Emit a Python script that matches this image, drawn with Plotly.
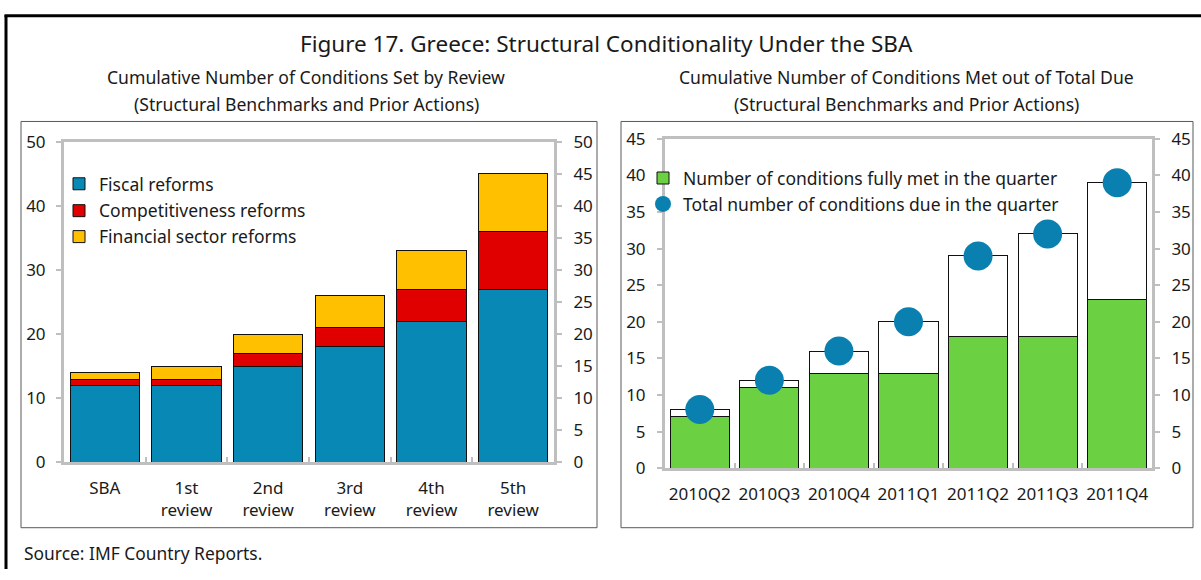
import plotly.graph_objects as go

W, H = 1201, 580

# ---- Data ----
reviews = ["SBA", "1st review", "2nd review", "3rd review", "4th review", "5th review"]
review_ticks = ["SBA", "1st<br>review", "2nd<br>review", "3rd<br>review", "4th<br>review", "5th<br>review"]
fiscal = [12, 12, 15, 18, 22, 27]
competitiveness = [1, 1, 2, 3, 5, 9]
financial = [1, 2, 3, 5, 6, 9]

quarters = ["2010Q2", "2010Q3", "2010Q4", "2011Q1", "2011Q2", "2011Q3", "2011Q4"]
met = [7, 11, 13, 13, 18, 18, 23]
due = [8, 12, 16, 20, 29, 32, 39]

FONT = "Noto Sans"
TXT = "#1a1a1a"
GRAY = "#BFBFBF"
BLUE = "#0888B4"
RED = "#E00000"
YELLOW = "#FFC000"
GREEN = "#6CD142"
DOT = "#0A80B0"
FS = 17
LFS = 17.5


def px(x):
    return x / W


def py(y):
    return 1 - y / H


fig = go.Figure()

# Left chart: stacked conditions by review
fig.add_bar(x=reviews, y=fiscal, name="Fiscal reforms", marker=dict(color=BLUE, line=dict(color="#111", width=1)),
            xaxis="x", yaxis="y", legend="legend")
fig.add_bar(x=reviews, y=competitiveness, name="Competitiveness reforms",
            marker=dict(color=RED, line=dict(color="#111", width=1)), xaxis="x", yaxis="y", legend="legend2")
fig.add_bar(x=reviews, y=financial, name="Financial sector reforms",
            marker=dict(color=YELLOW, line=dict(color="#111", width=1)), xaxis="x", yaxis="y", legend="legend3")
fig.add_scatter(x=reviews, y=[None] * len(reviews), xaxis="x", yaxis="y2", showlegend=False, hoverinfo="skip")

# Right chart: met vs due
remaining = [d - m for d, m in zip(due, met)]
fig.add_bar(x=quarters, y=met, name="Number of conditions fully met in the quarter",
            marker=dict(color=GREEN, line=dict(color="#111", width=1)), xaxis="x2", yaxis="y3", legend="legend4")
fig.add_bar(x=quarters, y=remaining, name="remaining", showlegend=False,
            marker=dict(color="white", line=dict(color="#111", width=1)), xaxis="x2", yaxis="y3")
fig.add_scatter(x=quarters, y=due, mode="markers", name="Total number of conditions due in the quarter",
                marker=dict(color=DOT, size=29), xaxis="x2", yaxis="y3", legend="legend5")
fig.add_scatter(x=quarters, y=[None] * len(quarters), xaxis="x2", yaxis="y4", showlegend=False, hoverinfo="skip")

tickfont = dict(family=FONT, size=FS, color=TXT)

xcommon = dict(showline=True, linecolor=GRAY, linewidth=3, mirror=True, ticks="inside", tickson="boundaries",
               ticklen=5, tickwidth=2, tickcolor=GRAY, showgrid=False, zeroline=False, tickfont=tickfont,
               fixedrange=True, ticklabelstandoff=8, tickangle=0)
ycommon = dict(showline=True, linecolor=GRAY, linewidth=3, ticks="outside", ticklen=5, tickwidth=2,
               tickcolor=GRAY, showgrid=False, zeroline=False, tickfont=tickfont, fixedrange=True)

fig.update_layout(
    width=W, height=H, autosize=False,
    margin=dict(l=0, r=0, t=0, b=0),
    paper_bgcolor="white", plot_bgcolor="white",
    barmode="stack", bargap=0.15,
    font=dict(family=FONT, size=FS, color=TXT),
    xaxis=dict(domain=[px(64), px(554)], anchor="y", tickmode="array", tickvals=reviews, ticktext=review_ticks,
               range=[-0.5, len(reviews) - 0.5], **xcommon),
    yaxis=dict(domain=[py(469), py(135)], anchor="x", range=[0, 50], dtick=10, side="left",
               ticklabelstandoff=7, **ycommon),
    yaxis2=dict(overlaying="y", anchor="x", side="right", range=[0, 50], dtick=5, ticklabelstandoff=8, **ycommon),
    xaxis2=dict(domain=[px(665), px(1152)], anchor="y3", range=[-0.5, len(quarters) - 0.5], **xcommon),
    yaxis3=dict(domain=[py(475), py(132)], anchor="x2", range=[0, 45], dtick=5, side="left",
                ticklabelstandoff=8, **ycommon),
    yaxis4=dict(overlaying="y3", anchor="x2", side="right", range=[0, 45], dtick=5, ticklabelstandoff=8,
                **ycommon),
)

leg = dict(bgcolor="rgba(0,0,0,0)", borderwidth=0, font=dict(family=FONT, size=LFS, color=TXT),
           xanchor="left", yanchor="middle", itemclick=False, itemdoubleclick=False)
fig.update_layout(
    legend=dict(x=px(59), y=py(179), **leg),
    legend2=dict(x=px(59), y=py(207), **leg),
    legend3=dict(x=px(59), y=py(234), **leg),
    legend4=dict(x=px(643), y=py(173), **leg),
    legend5=dict(x=px(643), y=py(200), **leg),
)

shapes = [
    dict(type="rect", xref="paper", yref="paper", x0=px(21), x1=px(597), y0=py(537), y1=py(114),
         line=dict(color="#595959", width=1)),
    dict(type="rect", xref="paper", yref="paper", x0=px(621), x1=px(1193), y0=py(537), y1=py(114),
         line=dict(color="#595959", width=1)),
    dict(type="line", xref="paper", yref="paper", x0=px(6), x1=px(6), y0=0, y1=py(3),
         line=dict(color="black", width=3)),
    dict(type="line", xref="paper", yref="paper", x0=px(4.5), x1=1, y0=py(4), y1=py(4),
         line=dict(color="black", width=3)),
]
fig.update_layout(shapes=shapes)

ann = [
    dict(text="Figure 17. Greece: Structural Conditionality Under the SBA", x=px(606), y=py(33), size=22.5),
    dict(text="Cumulative Number of Conditions Set by Review", x=px(306), y=py(68), size=17.6),
    dict(text="(Structural Benchmarks and Prior Actions)", x=px(306), y=py(96), size=17.6),
    dict(text="Cumulative Number of Conditions Met out of Total Due", x=px(906), y=py(68), size=17.6),
    dict(text="(Structural Benchmarks and Prior Actions)", x=px(906), y=py(96), size=17.6),
    dict(text="Source: IMF Country Reports.", x=px(22), y=py(563), xanchor="left", size=17.4),
]
for a in ann:
    fig.add_annotation(xref="paper", yref="paper", showarrow=False, yanchor="middle",
                       font=dict(family=FONT, color=TXT, size=a["size"]),
                       text=a["text"], x=a["x"], y=a["y"], xanchor=a.get("xanchor", "center"))

post = (
    "document.documentElement.style.margin='0';document.documentElement.style.padding='0';"
    "document.documentElement.style.overflow='hidden';"
    "document.body.style.margin='0';document.body.style.padding='0';document.body.style.overflow='hidden';"
    "var d=document.getElementById('{plot_id}');d.style.position='fixed';d.style.left='0px';d.style.top='0px';"
)
fig.write_html("out.html", config={"responsive": False, "displayModeBar": False}, post_script=post)
